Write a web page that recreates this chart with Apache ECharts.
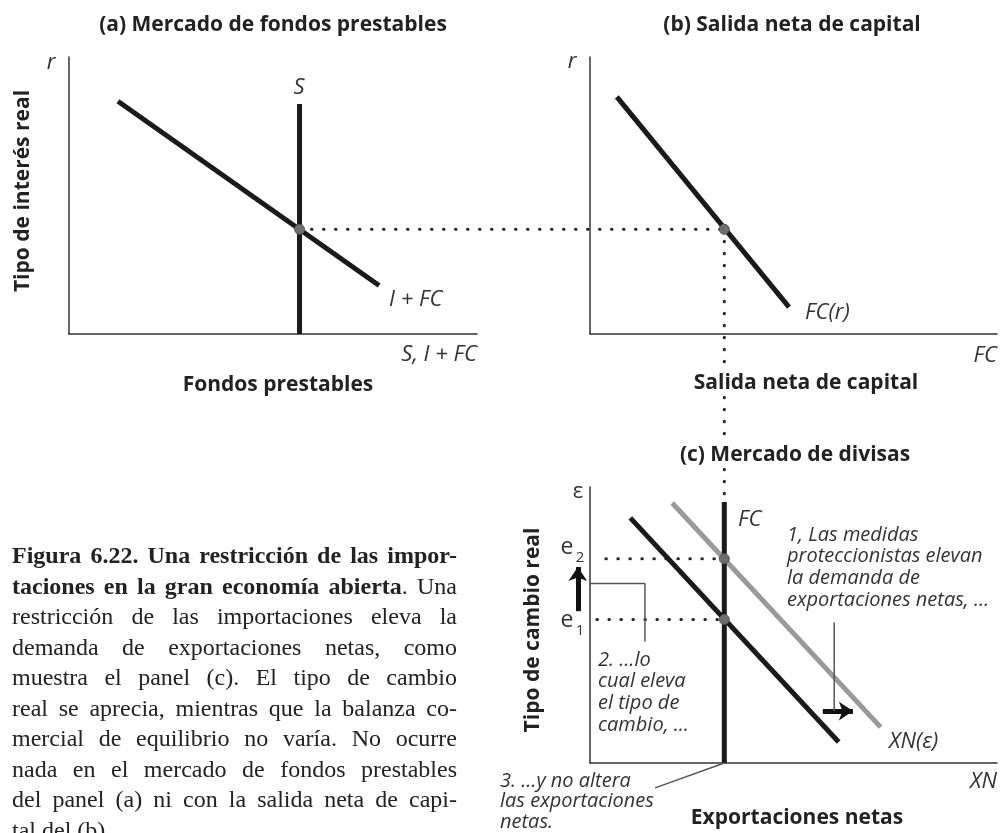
<!DOCTYPE html>
<html>
<head>
<meta charset="utf-8">
<script src="https://cdn.jsdelivr.net/npm/echarts@6/dist/echarts.min.js"></script>
<style>
  html, body { margin: 0; padding: 0; background: #fff; }
  #main { width: 1000px; height: 833px; }
</style>
</head>
<body>
<div id="main"></div>
<script>
// (a) mercado de fondos prestables (unidades 0-100 en cada eje)
const ahorroS = [[56.5, 0], [56.5, 83]];
const inversionFC = [[12, 84], [76, 17.5]];
const equilibrioA = [[56.5, 37.8]];
// (b) salida neta de capital
const salidaFC = [[6.6, 85.6], [48.9, 9.7]];
const equilibrioB = [[33, 37.8]];
// (c) mercado de divisas
const ofertaFC = [[33, 0], [33, 94.6]];
const xnInicial = [[9.9, 88.8], [61.1, 7.6]];
const xnNueva = [[20.2, 94.2], [71.4, 13.0]];
const equilibriosC = [[33, 52], [33, 74]];
const guiaE1 = [[1.7, 52], [33, 52]];
const guiaE2 = [[3.9, 74], [33, 74]];
// flechas y líneas de las notas
const flechaSube = [[-3, 55], [-3, 71]];
const flechaDerecha = [[57.2, 18.8], [64.6, 18.8]];
const guiaNota1 = [[60, 51], [60, 18.8]];
const guiaNota2 = [[-2, 65], [13.5, 65], [13.5, 44]];
const guiaNota3 = [[16, -9], [33, 0]];

const nota1 = ['1, Las medidas', 'proteccionistas elevan', 'la demanda de', 'exportaciones netas, …'];
const nota2 = ['2. …lo', 'cual eleva', 'el tipo de', 'cambio, …'];
const nota3 = ['3. …y no altera', 'las exportaciones', 'netas.'];

const leyenda = [
  [['Figura 6.22. Una restricción de las impor-', true]],
  [['taciones en la gran economía abierta', true], ['. Una', false]],
  [['restricción de las importaciones eleva la', false]],
  [['demanda de exportaciones netas, como', false]],
  [['muestra el panel (c). El tipo de cambio', false]],
  [['real se aprecia, mientras que la balanza co-', false]],
  [['mercial de equilibrio no varía. No ocurre', false]],
  [['nada en el mercado de fondos prestables', false]],
  [['del panel (a) ni con la salida neta de capi-', false]],
  [['tal del (b).', false]]
];

const SANS = '"Open Sans", sans-serif';
const SERIF = '"Liberation Serif", serif';
const dots = [0.5, 11.5];

function ax(g) {
  return {
    type: 'value', gridIndex: g, min: 0, max: 100,
    axisLine: { show: true, onZero: false, lineStyle: { color: '#333', width: 1.5 } },
    axisTick: { show: false }, axisLabel: { show: false }, splitLine: { show: false }
  };
}
function seg(g, data, color, width, type) {
  return {
    type: 'line', xAxisIndex: g, yAxisIndex: g, data: data, symbol: 'none',
    clip: false, silent: true, animation: false,
    lineStyle: { color: color, width: width, type: type || 'solid', cap: type ? 'round' : 'butt' }
  };
}
function pts(g, data) {
  return {
    type: 'scatter', xAxisIndex: g, yAxisIndex: g, data: data, symbolSize: 10,
    silent: true, animation: false, z: 5,
    itemStyle: { color: '#6e6e6e', borderColor: '#555', borderWidth: 1, opacity: 1 }
  };
}
function flecha(g, coords) {
  return {
    type: 'lines', coordinateSystem: 'cartesian2d', xAxisIndex: g, yAxisIndex: g,
    data: [{ coords: coords }], symbol: ['none', 'arrow'], symbolSize: 14,
    clip: false, silent: true, animation: false,
    lineStyle: { color: '#111', width: 5, opacity: 1, curveness: 0 }
  };
}

const chart = echarts.init(document.getElementById('main'));
chart.setOption({
  animation: false,
  grid: [
    { left: 69, top: 57, width: 408, height: 277 },
    { left: 590, top: 57, width: 407, height: 277 },
    { left: 590, top: 487, width: 407, height: 276 }
  ],
  xAxis: [ax(0), ax(1), ax(2)],
  yAxis: [ax(0), ax(1), ax(2)],
  series: [
    seg(0, ahorroS, '#1a1a1a', 5),
    seg(0, inversionFC, '#1a1a1a', 5),
    pts(0, equilibrioA),
    seg(1, salidaFC, '#1a1a1a', 5),
    pts(1, equilibrioB),
    seg(2, guiaE1, '#222', 3, dots),
    seg(2, guiaE2, '#222', 3, dots),
    seg(2, xnNueva, '#999', 5),
    seg(2, xnInicial, '#1a1a1a', 5),
    seg(2, ofertaFC, '#1a1a1a', 5),
    pts(2, equilibriosC),
    seg(2, guiaNota1, '#555', 1.5),
    seg(2, guiaNota2, '#555', 1.5),
    seg(2, guiaNota3, '#555', 1.5),
    flecha(2, flechaSube),
    flecha(2, flechaDerecha)
  ]
});

// líneas punteadas entre paneles, a partir de los puntos de equilibrio
const pA = chart.convertToPixel({ gridIndex: 0 }, equilibrioA[0]);
const pB = chart.convertToPixel({ gridIndex: 1 }, equilibrioB[0]);
const pC = chart.convertToPixel({ gridIndex: 2 }, ofertaFC[1]);
const punteado = { stroke: '#222', lineWidth: 3, lineDash: dots, lineCap: 'round' };

function txt(x, y, text, font, opt) {
  opt = opt || {};
  return {
    type: 'text', x: x, y: y, rotation: opt.rot || 0, z: opt.z || 10,
    style: Object.assign({
      text: text, font: font, fill: opt.fill || '#222',
      align: opt.align || 'center', textAlign: opt.align || 'center',
      verticalAlign: opt.va || 'middle', textVerticalAlign: opt.va || 'middle'
    }, opt.extra || {})
  };
}
const bold = 'bold 21px ' + SANS;
const ital = 'italic 22px ' + SANS;
const nota = 'italic 20px ' + SANS;
const gris = '#333';
const blanco = { backgroundColor: '#fff', padding: [2, 4] };

const g = [
  { type: 'line', z: 1, shape: { x1: pA[0], y1: pA[1], x2: pB[0], y2: pB[1] }, style: punteado },
  { type: 'line', z: 1, shape: { x1: pB[0], y1: pB[1], x2: pB[0], y2: pC[1] }, style: punteado },
  txt(273, 25, '(a) Mercado de fondos prestables', bold),
  txt(792, 25, '(b) Salida neta de capital', bold),
  txt(795, 455, '(c) Mercado de divisas', bold, { extra: blanco }),
  txt(278, 385, 'Fondos prestables', bold),
  txt(806, 383, 'Salida neta de capital', bold, { extra: blanco }),
  txt(797, 818, 'Exportaciones netas', bold),
  txt(23, 191, 'Tipo de interés real', bold, { rot: Math.PI / 2 }),
  txt(533, 630, 'Tipo de cambio real', bold, { rot: Math.PI / 2 }),
  txt(51, 63, 'r', ital, { fill: gris }),
  txt(299, 88, 'S', ital, { fill: gris }),
  txt(389, 300, 'I + FC', ital, { fill: gris, align: 'left' }),
  txt(477, 355, 'S, I + FC', ital, { fill: gris, align: 'right' }),
  txt(572, 62, 'r', ital, { fill: gris }),
  txt(805, 313, 'FC(r)', ital, { fill: gris, align: 'left' }),
  txt(997, 356, 'FC', ital, { fill: gris, align: 'right' }),
  txt(578, 492, 'ε', '22px ' + SANS, { fill: gris }),
  txt(738, 520, 'FC', ital, { fill: gris, align: 'left' }),
  txt(889, 742, 'XN(ε)', ital, { fill: gris, align: 'left' }),
  txt(997, 782, 'XN', ital, { fill: gris, align: 'right' }),
  txt(567, 547, 'e', '23px ' + SANS, { fill: gris }),
  txt(580, 558, '2', '15px ' + SANS, { fill: gris }),
  txt(567, 620, 'e', '23px ' + SANS, { fill: gris }),
  txt(580, 631, '1', '15px ' + SANS, { fill: gris }),
  txt(787, 524, nota1.join('\n'), nota, { fill: gris, align: 'left', va: 'top', extra: { lineHeight: 21.7 } }),
  txt(598, 649, nota2.join('\n'), nota, { fill: gris, align: 'left', va: 'top', extra: { lineHeight: 21.7 } }),
  txt(500, 771, nota3.join('\n'), nota, { fill: gris, align: 'left', va: 'top', extra: { lineHeight: 20.5 } })
];

// leyenda justificada, palabra por palabra
const ctx = document.createElement('canvas').getContext('2d');
const capLeft = 12, capRight = 457, capTop = 557, capStep = 30.5;
let capSize = 20;
function fontOf(b) { return (b ? 'bold ' : '') + capSize + 'px ' + SERIF; }
function width(t, b) { ctx.font = fontOf(b); return ctx.measureText(t).width; }
function wordsOf(segs) {
  const words = [];
  let cur = null;
  segs.forEach(function (s) {
    s[0].split(' ').forEach(function (p, k) {
      if (k > 0) cur = null;
      if (p === '') return;
      if (!cur) { cur = []; words.push(cur); }
      cur.push([p, s[1]]);
    });
  });
  return words;
}
function natural(segs) {
  return segs.reduce(function (a, s) { return a + width(s[0], s[1]); }, 0);
}
// el tamaño se ajusta a la línea más apretada
const maxNat = Math.max.apply(null, leyenda.slice(0, -1).map(natural));
capSize = Math.min(24, 20 * 441 / maxNat);

leyenda.forEach(function (segs, i) {
  const words = wordsOf(segs);
  const ww = words.map(function (w) {
    return w.reduce(function (a, p) { return a + width(p[0], p[1]); }, 0);
  });
  const total = ww.reduce(function (a, b) { return a + b; }, 0);
  const last = i === leyenda.length - 1;
  const gap = last ? width(' ', false) : (capRight - capLeft - total) / (words.length - 1);
  let x = capLeft;
  const y = capTop + i * capStep;
  words.forEach(function (w, j) {
    let px = x;
    w.forEach(function (p) {
      g.push(txt(px, y, p[0], fontOf(p[1]), { align: 'left', fill: '#222' }));
      px += width(p[0], p[1]);
    });
    x += ww[j] + gap;
  });
});

chart.setOption({ graphic: g });
</script>
</body>
</html>
